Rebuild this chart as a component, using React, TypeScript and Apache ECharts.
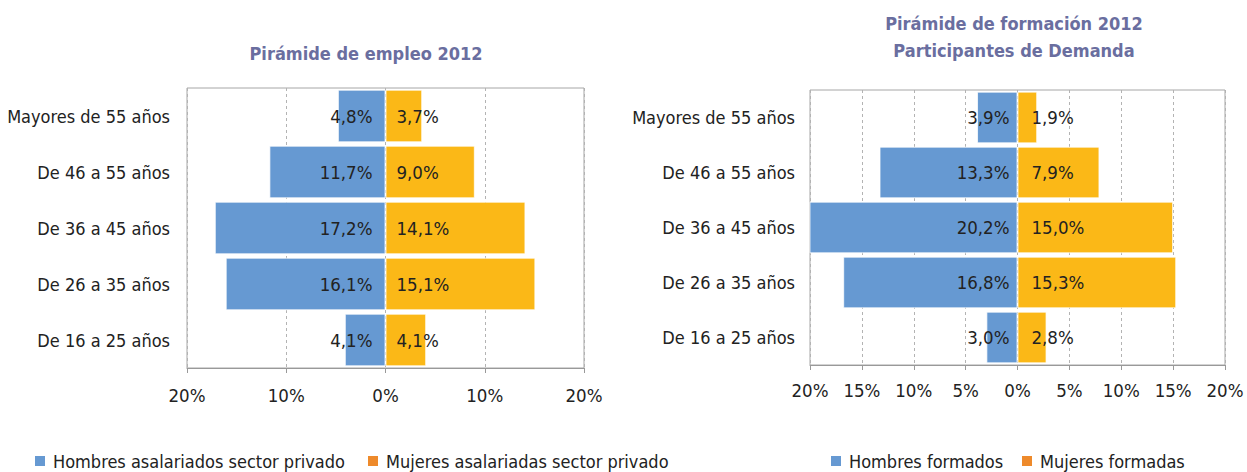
import React, { useEffect, useRef } from "react";
import * as echarts from "echarts";

const categories = ["De 16 a 25 años", "De 26 a 35 años", "De 36 a 45 años", "De 46 a 55 años", "Mayores de 55 años"];
const empleoHombres = [4.1, 16.1, 17.2, 11.7, 4.8];
const empleoMujeres = [4.1, 15.1, 14.1, 9.0, 3.7];
const formHombres = [3.0, 16.8, 20.2, 13.3, 3.9];
const formMujeres = [2.8, 15.3, 15.0, 7.9, 1.9];

const titleLeft = "Pirámide de empleo 2012";
const titleRight1 = "Pirámide de formación 2012";
const titleRight2 = "Participantes de Demanda";
const legendNames = ["Hombres asalariados sector privado", "Mujeres asalariadas sector privado", "Hombres formados", "Mujeres formadas"];

const FONT = "'DejaVu Sans Condensed', 'Liberation Sans Narrow', sans-serif";
const BLUE = "#6699D2";
const YELLOW = "#FBB817";
const LEG_BLUE = "#6699D2";
const LEG_ORANGE = "#EE8A2B";
const TITLE_COLOR = "#6A6E9F";
const TEXT = "#222";

const fmt = (v: number) => Math.abs(v).toFixed(1).replace(".", ",") + "%";

export default function App() {
  const ref = useRef<HTMLDivElement>(null);
  useEffect(() => {
    if (!ref.current) return;
    const chart = echarts.init(ref.current, null, { renderer: "svg" });

    const makeX = (gridIndex: number, interval: number, margin: number) => ({
      type: "value",
      gridIndex,
      min: -20,
      max: 20,
      interval,
      axisLine: { show: true, onZero: false, lineStyle: { color: "#999" } },
      axisTick: { show: true, length: 5, lineStyle: { color: "#999" } },
      axisLabel: {
        margin,
        fontFamily: FONT,
        fontSize: 18.5,
        color: TEXT,
        formatter: (v: number) => Math.abs(v) + "%",
      },
      splitLine: { show: true, lineStyle: { color: "#b3b3b3", type: [3, 3] } },
    });
    const makeY = (gridIndex: number, margin: number) => ({
      type: "category",
      gridIndex,
      data: categories,
      axisLine: { show: false },
      axisTick: { show: false },
      axisLabel: { margin, fontFamily: FONT, fontSize: 18, color: TEXT },
    });
    const labelStyle = (position: string, distance: number) => ({
      show: true,
      position,
      distance,
      fontFamily: FONT,
      fontSize: 18.5,
      color: TEXT,
      formatter: (p: any) => fmt(p.value),
    });
    const barStyle = (color: string) => ({ color, borderColor: "rgba(255,255,255,0.75)", borderWidth: 1 });

    const legendItem = (name: string, color: string, left: number) => ({
      left,
      top: 452,
      padding: 0,
      icon: "rect",
      itemWidth: 10,
      itemHeight: 10,
      textStyle: { fontFamily: FONT, fontSize: 18, color: TEXT, padding: [0, 0, 0, 3] },
      data: [{ name, itemStyle: { color, borderWidth: 0 } }],
    });

    chart.setOption({
      animation: false,
      backgroundColor: "#fff",
      graphic: [
        { type: "text", x: 366, y: 53, style: { text: titleLeft, fill: TITLE_COLOR, font: `bold 18px ${FONT}`, textAlign: "center", textVerticalAlign: "middle" } },
        { type: "text", x: 1014, y: 23, style: { text: titleRight1, fill: TITLE_COLOR, font: `bold 18px ${FONT}`, textAlign: "center", textVerticalAlign: "middle" } },
        { type: "text", x: 1014, y: 50, style: { text: titleRight2, fill: TITLE_COLOR, font: `bold 18px ${FONT}`, textAlign: "center", textVerticalAlign: "middle" } },
      ],
      legend: [
        legendItem(legendNames[0], LEG_BLUE, 35),
        legendItem(legendNames[1], LEG_ORANGE, 368),
        legendItem(legendNames[2], LEG_BLUE, 831),
        legendItem(legendNames[3], LEG_ORANGE, 1022),
      ],
      grid: [
        { left: 187, top: 88, width: 397, height: 280, show: true, borderColor: "#a6a6a6", borderWidth: 1, outerBoundsMode: "none" },
        { left: 810, top: 90, width: 415, height: 275, show: true, borderColor: "#a6a6a6", borderWidth: 1, outerBoundsMode: "none" },
      ],
      xAxis: [makeX(0, 10, 18), makeX(1, 5, 16)],
      yAxis: [makeY(0, 17), makeY(1, 15)],
      series: [
        {
          name: legendNames[0], type: "bar", xAxisIndex: 0, yAxisIndex: 0, stack: "a",
          barCategoryGap: "6%",
          data: empleoHombres.map((v) => -v),
          itemStyle: barStyle(BLUE),
          label: labelStyle("insideRight", 13),
        },
        {
          name: legendNames[1], type: "bar", xAxisIndex: 0, yAxisIndex: 0, stack: "a",
          barCategoryGap: "6%",
          data: empleoMujeres,
          itemStyle: barStyle(YELLOW),
          label: labelStyle("insideLeft", 11),
        },
        {
          name: legendNames[2], type: "bar", xAxisIndex: 1, yAxisIndex: 1, stack: "b",
          barCategoryGap: "6%",
          data: formHombres.map((v) => -v),
          itemStyle: barStyle(BLUE),
          label: labelStyle("insideRight", 8),
        },
        {
          name: legendNames[3], type: "bar", xAxisIndex: 1, yAxisIndex: 1, stack: "b",
          barCategoryGap: "6%",
          data: formMujeres,
          itemStyle: barStyle(YELLOW),
          label: labelStyle("insideLeft", 14),
        },
      ],
    });
    return () => chart.dispose();
  }, []);
  return <div ref={ref} style={{ position: "fixed", left: 0, top: 0, width: 1247, height: 472 }} />;
}
